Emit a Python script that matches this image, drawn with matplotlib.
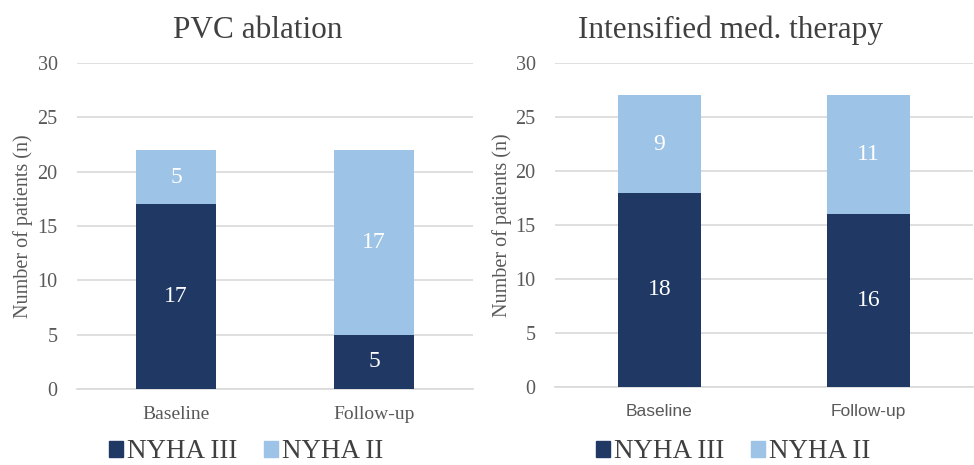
"""Stacked bars of NYHA class at baseline and follow-up, two treatment groups."""

import matplotlib

matplotlib.use("Agg")

from matplotlib import pyplot as plt  # noqa: E402
from matplotlib.patches import Patch  # noqa: E402

CATEGORIES = ["Baseline", "Follow-up"]
PANEL_TITLES = ["PVC ablation", "Intensified med. therapy"]
SERIES_NAMES = ["NYHA III", "NYHA II"]

PVC_NYHA3 = [17, 5]
PVC_NYHA2 = [5, 17]
MED_NYHA3 = [18, 16]
MED_NYHA2 = [9, 11]

Y_TICKS = [0, 5, 10, 15, 20, 25, 30]

DARK = "#1F3864"
LIGHT = "#9DC3E6"
GRID = "#D9D9D9"
TEXT = "#404040"
TICK_TEXT = "#595959"
SERIF = "Liberation Serif"
SANS = "Liberation Sans"


def draw_panel(ax, title, nyha3, nyha2, xtick_family, title_x, ylabel_x):
    x = range(len(CATEGORIES))
    low = ax.bar(x, nyha3, width=0.40, color=DARK, zorder=3)
    high = ax.bar(x, nyha2, width=0.40, bottom=nyha3, color=LIGHT, zorder=3)
    for bars in (low, high):
        ax.bar_label(bars, label_type="center", color="white",
                     fontsize=17, family=SERIF)

    ax.set_xlim(-0.5, 1.5)
    ax.set_ylim(0, 30)
    ax.set_yticks(Y_TICKS)
    ax.set_xticks(list(x))
    ax.set_xticklabels(CATEGORIES, family=xtick_family,
                       fontsize=14 if xtick_family == SERIF else 12.5)
    for label in ax.get_yticklabels():
        label.set_family(SERIF)
        label.set_fontsize(14.5)
    ax.tick_params(length=0, colors=TICK_TEXT)
    ax.tick_params(axis="y", pad=14)
    ax.tick_params(axis="x", pad=12)
    ax.yaxis.grid(True, color=GRID, linewidth=1.2, zorder=0)
    for spine in ("top", "right", "left"):
        ax.spines[spine].set_visible(False)
    ax.spines["bottom"].set_color(GRID)
    ax.spines["bottom"].set_linewidth(1.2)
    ax.set_ylabel("Number of patients (n)", family=SERIF, fontsize=14.5,
                  color=TICK_TEXT)
    ax.yaxis.set_label_coords(ylabel_x, 0.5)
    ax.set_title(title, family=SERIF, fontsize=22.5, color=TEXT, pad=18,
                 x=title_x)


fig = plt.figure(figsize=(9.74, 4.65), dpi=100)
ax_left = fig.add_axes([0.079, 0.1634, 0.4066, 0.701])
ax_right = fig.add_axes([0.5698, 0.1677, 0.429, 0.6968])

draw_panel(ax_left, PANEL_TITLES[0], PVC_NYHA3, PVC_NYHA2, SERIF,
           title_x=0.457, ylabel_x=-0.111)
draw_panel(ax_right, PANEL_TITLES[1], MED_NYHA3, MED_NYHA2, SANS,
           title_x=0.419, ylabel_x=-0.103)

handles = [Patch(color=DARK), Patch(color=LIGHT)]
for center in (0.253, 0.753):
    fig.legend(handles, SERIES_NAMES, loc="center",
               bbox_to_anchor=(center, 0.028), ncol=2, frameon=False,
               handlelength=0.5, handleheight=0.5, handletextpad=0.15,
               columnspacing=1.0,
               prop={"family": SERIF, "size": 19.5}, labelcolor=TEXT)

fig.savefig("out.png", dpi=100)
